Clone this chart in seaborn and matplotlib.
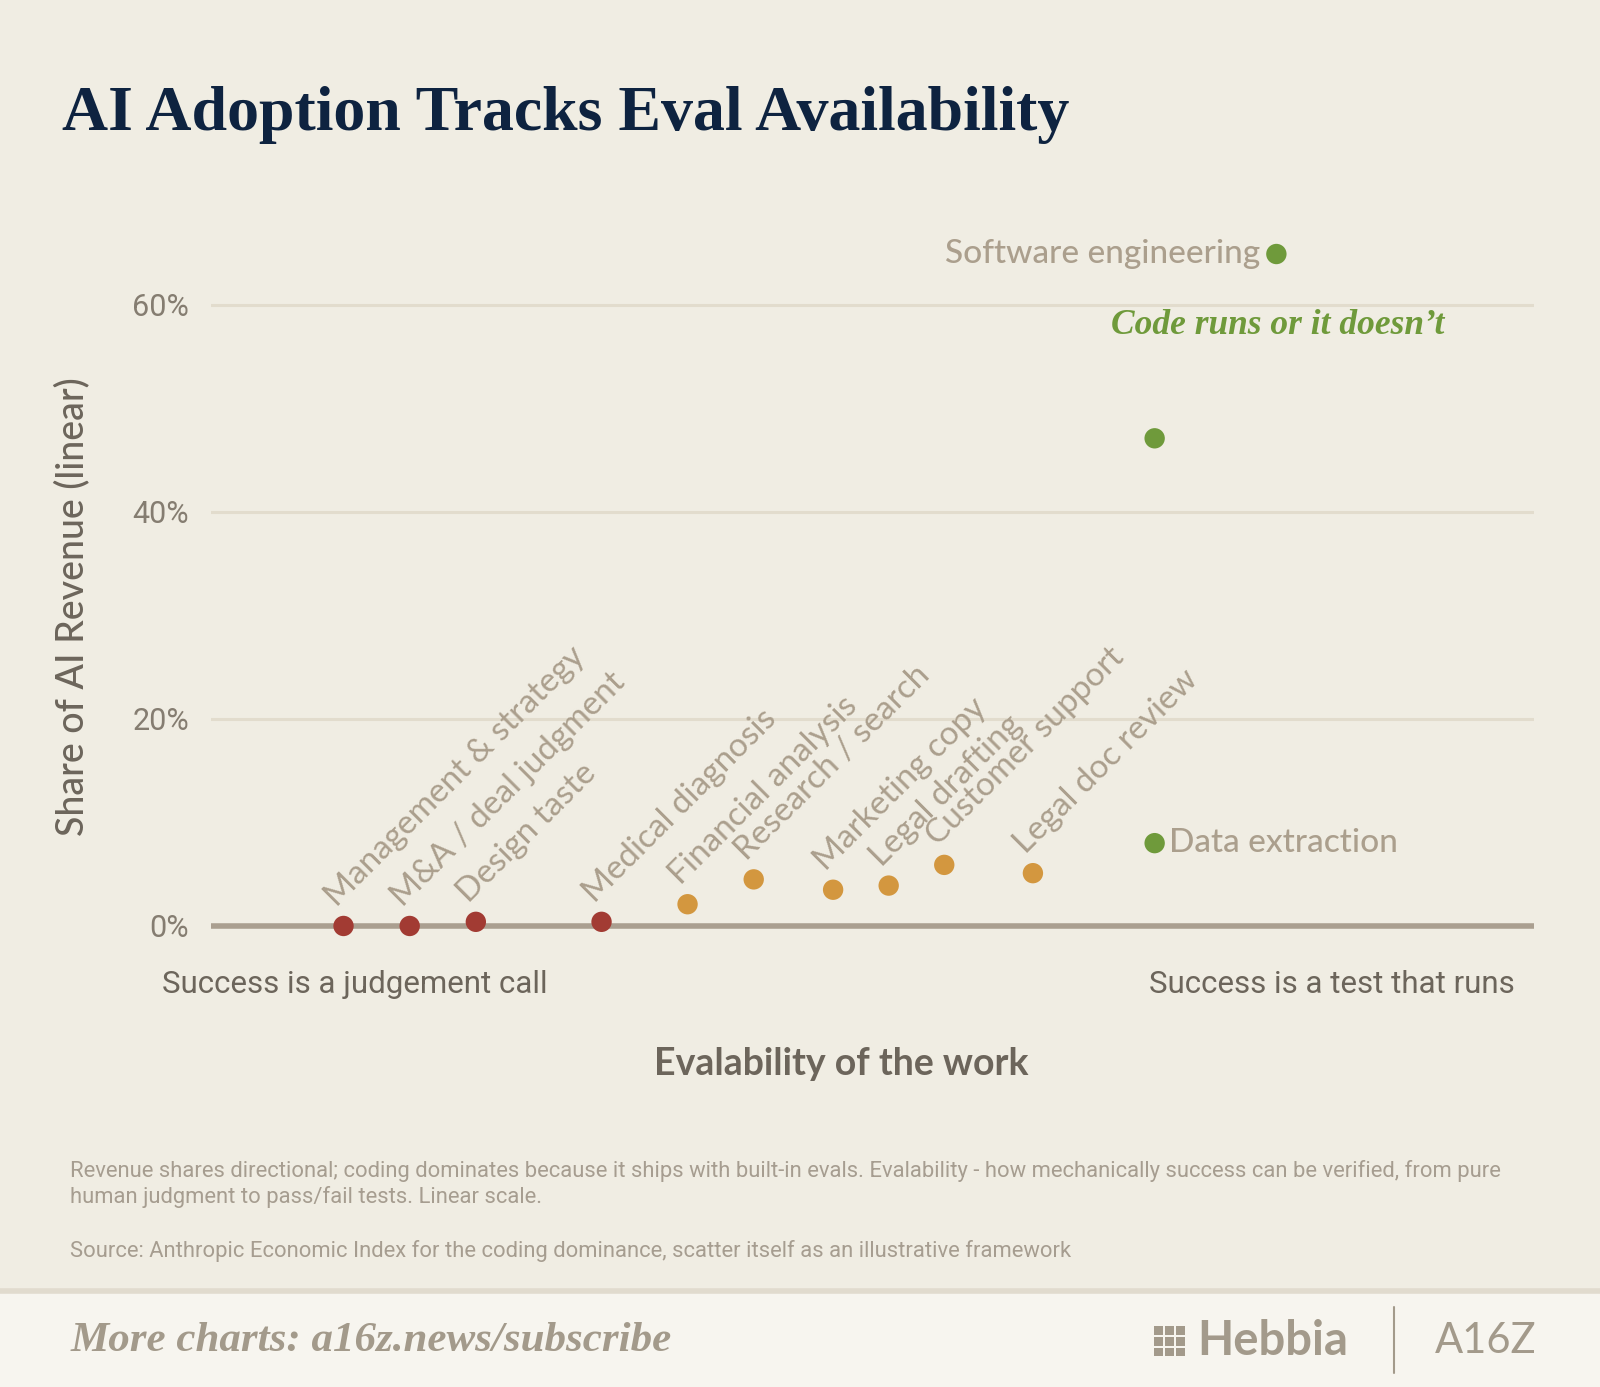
import matplotlib
matplotlib.use("Agg")
import matplotlib.pyplot as plt
import pandas as pd
import seaborn as sns
from matplotlib.patches import Rectangle
from matplotlib.lines import Line2D

# data
tasks = ["Management & strategy", "M&A / deal judgment", "Design taste", "Medical diagnosis",
         "Financial analysis", "Research / search", "Marketing copy", "Legal drafting",
         "Customer support", "Legal doc review", "Data extraction", "", "Software engineering"]
evalability = [1.0, 1.5, 2.0, 2.95, 3.6, 4.1, 4.7, 5.12, 5.54, 6.21, 7.13, 7.13, 8.05]
revenue_share = [0.0, 0.0, 0.4, 0.4, 2.1, 4.5, 3.5, 3.9, 5.9, 5.1, 8.0, 47.1, 64.9]
tier = ["judgement"] * 4 + ["partial"] * 6 + ["testable"] * 3
y_ticks = [0, 20, 40, 60]

BG = "#f0ede3"
TAUPE = "#ab9f8d"
DARK = "#6c655b"
palette = {"judgement": "#a23b33", "partial": "#d3973f", "testable": "#6f9a3b"}

df = pd.DataFrame({"task": tasks, "evalability": evalability,
                   "share": revenue_share, "tier": tier})

sns.set_theme(style="white")
plt.rcParams["font.family"] = ["Lato", "DejaVu Sans"]
NARROW = ["Roboto", "Lato", "DejaVu Sans"]

fig = plt.figure(figsize=(16, 13.87), dpi=100, facecolor=BG)
ax = fig.add_axes([0.132, 0.310, 0.827, 0.530], facecolor=BG)

# grid and zero line
for v in y_ticks[1:]:
    ax.axhline(v, color="#e2dccd", lw=2.2, zorder=0)
ax.axhline(0, color="#aa9f90", lw=4, zorder=1)

sns.scatterplot(data=df, x="evalability", y="share", hue="tier", palette=palette,
                s=215, edgecolor="none", legend=False, ax=ax, zorder=3)

for _, r in df.iterrows():
    if r["task"] == "":
        continue
    if r["tier"] != "testable":
        ax.annotate(r["task"], (r["evalability"], r["share"]), xytext=(-5, 13),
                    textcoords="offset points", rotation=45, rotation_mode="anchor",
                    ha="left", va="baseline", fontsize=24, color=TAUPE)
    elif r["task"] == "Software engineering":
        ax.annotate(r["task"], (r["evalability"], r["share"]), xytext=(-12, 0),
                    textcoords="offset points", ha="right", va="center",
                    fontsize=24, color=TAUPE, fontweight="medium")
    else:
        ax.annotate(r["task"], (r["evalability"], r["share"]), xytext=(10, 0),
                    textcoords="offset points", ha="left", va="center",
                    fontsize=24, color=TAUPE, fontweight="medium")

ax.text(9.32, 58.0, "Code runs or it doesn\u2019t", ha="right", va="center",
        fontsize=25.5, color="#6f9a3b", style="italic", fontweight="bold",
        family=["Liberation Serif"])

ax.set_xlim(0, 10)
ax.set_ylim(-3, 68)
ax.set_yticks(y_ticks)
ax.set_yticklabels([f"{v}%" for v in y_ticks], fontsize=22, color="#857d71",
                   family=NARROW)
ax.set_xticks([])
ax.tick_params(axis="y", length=0, pad=16)
ax.set_xlabel("")
ax.set_ylabel("Share of AI Revenue (linear)", fontsize=27, color=DARK,
              fontweight="medium")
ax.yaxis.set_label_coords(-0.0915, 0.476)
sns.despine(ax=ax, left=True, bottom=True)

# axis end captions
fig.text(0.101, 0.290, "Success is a judgement call", fontsize=22.5, color=DARK,
         family=NARROW, ha="left", va="center")
fig.text(0.947, 0.290, "Success is a test that runs", fontsize=22.5, color=DARK,
         family=NARROW, ha="right", va="center")
fig.text(0.526, 0.233, "Evalability of the work", fontsize=27, color=DARK,
         fontweight="bold", ha="center", va="center")

# title
fig.text(0.039, 0.917, "AI Adoption Tracks Eval Availability", fontsize=46,
         color="#0e2340", fontweight="bold", family=["Liberation Serif"],
         ha="left", va="center")

# footnotes
note_kw = dict(fontsize=15.8, color="#a69d90", family=NARROW, ha="left", va="center")
fig.text(0.044, 0.156, "Revenue shares directional; coding dominates because it ships with "
         "built-in evals. Evalability - how mechanically success can be verified, from pure",
         **note_kw)
fig.text(0.044, 0.137, "human judgment to pass/fail tests. Linear scale.", **note_kw)
fig.text(0.044, 0.098, "Source: Anthropic Economic Index for the coding dominance, "
         "scatter itself as an illustrative framework", **note_kw)

# footer band
fig.patches.append(Rectangle((0, 0), 1, 0.069, transform=fig.transFigure,
                             facecolor="#f7f5ef", edgecolor="none", zorder=0))
fig.lines.append(Line2D([0, 1], [0.069, 0.069], transform=fig.transFigure,
                        color="#e1dbce", lw=4))
fig.text(0.044, 0.033, "More charts: a16z.news/subscribe", fontsize=31,
         color="#a39a8b", style="italic", fontweight="bold",
         family=["Liberation Serif"], ha="left", va="center")
for i in range(3):
    for j in range(3):
        fig.patches.append(Rectangle((0.7215 + i * 0.0069, 0.022 + j * 0.0079),
                                     0.0053, 0.0062, transform=fig.transFigure,
                                     facecolor="#a39a8b", edgecolor="none"))
fig.text(0.748, 0.033, "Hebbia", fontsize=34, color="#a39a8b", fontweight="bold",
         ha="left", va="center")
fig.lines.append(Line2D([0.871, 0.871], [0.01, 0.058], transform=fig.transFigure,
                        color="#a39a8b", lw=1.5))
fig.text(0.897, 0.033, "A16Z", fontsize=30, color="#a39a8b",
         ha="left", va="center")

fig.savefig("out.png", dpi=100, facecolor=BG)
